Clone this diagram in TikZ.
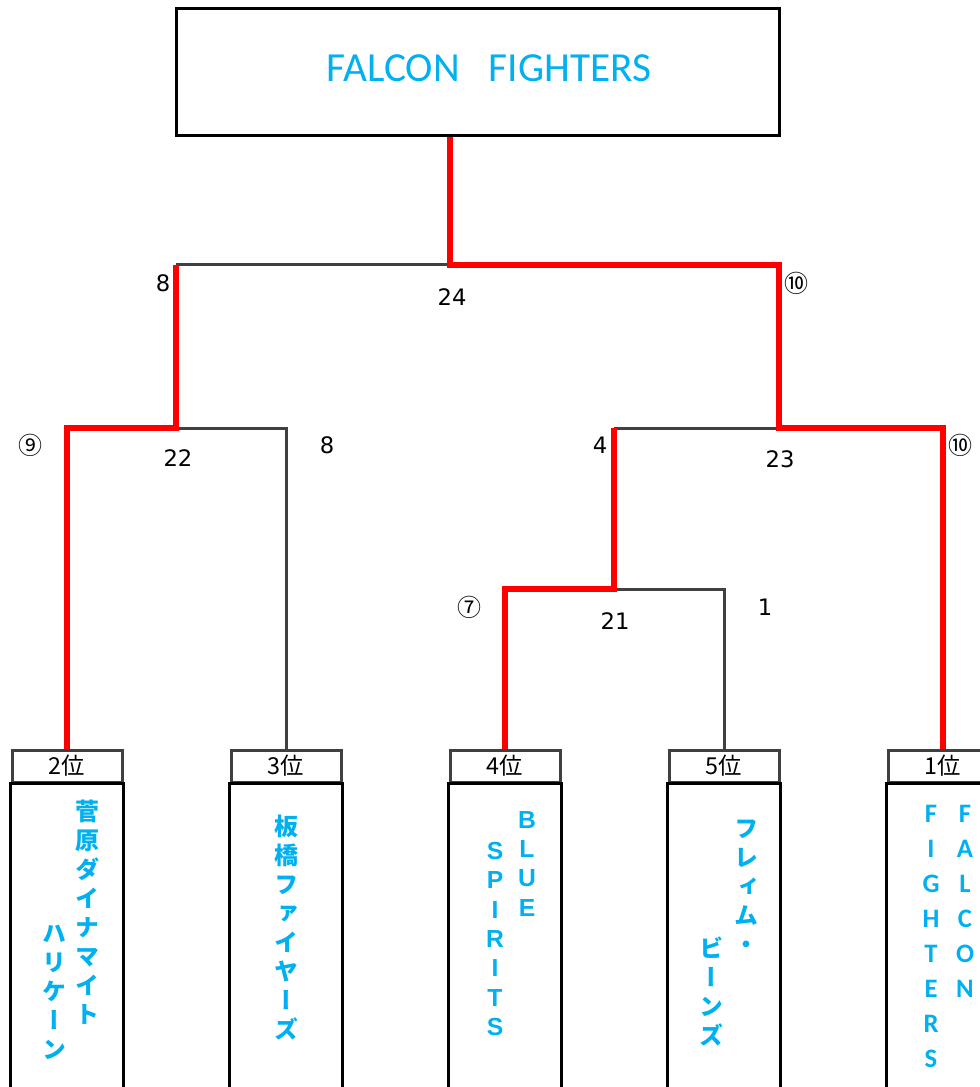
\documentclass[tikz,border=0pt]{standalone}
\usepackage{fontspec}
\setmainfont{DejaVu Sans}
\newfontfamily\cjk{Noto Sans CJK JP}
\newfontfamily\cjkv{Noto Sans CJK JP}[RawFeature=+vert]
\newfontfamily\arialf{Liberation Sans}
\newfontfamily\calif{Carlito}
\definecolor{skyblue}{HTML}{00B0F0}
\definecolor{linegray}{HTML}{404040}
\begin{document}
\begin{tikzpicture}[x=0.75pt,y=-0.75pt,
  win/.style={red, line width=4.5pt},
  lose/.style={linegray, line width=2.25pt},
  rank/.style={draw=linegray, line width=2.25pt, minimum width=82.5pt, minimum height=24pt, inner sep=0pt, font=\cjk\fontsize{17.5}{19}\selectfont},
  body/.style={black, line width=2.25pt},
  score/.style={inner sep=0pt, font=\fontsize{17}{20}\selectfont},
  circ/.style={inner sep=0pt, font=\cjk\fontsize{18}{20}\selectfont},
  jname/.style={anchor=north, inner sep=0pt, align=center, text=skyblue, font=\cjkv\bfseries\fontsize{18}{21.75}\selectfont},
  ename/.style={anchor=north, inner sep=0pt, align=center, text=skyblue, font=\arialf\bfseries\fontsize{18.5}{22}\selectfont},
  fname/.style={anchor=north, inner sep=0pt, align=center, text=skyblue, font=\calif\bfseries\fontsize{20}{26.25}\selectfont}]
\useasboundingbox (0,0) rectangle (980,1087);
\clip (0,0) rectangle (980,1087);
% champion
\node[draw, line width=2.25pt, minimum width=452.25pt, minimum height=95.25pt] (top) at (477.5,72.5) {};
\node[font=\calif\fontsize{31}{36}\selectfont, text=skyblue] (title) at (489,68) {FALCON\hspace{0.7em}FIGHTERS};
% teams
\node[rank] (r2) at (67,766) {2位};
\node[rank] (r3) at (286,766) {3位};
\node[rank] (r4) at (505,766) {4位};
\node[rank] (r5) at (724,766) {5位};
\node[rank] (r1) at (943,766) {1位};
\coordinate (floor) at (0,1100);
\draw[body] (r2.south west) rectangle (r2.south east |- floor);
\draw[body] (r3.south west) rectangle (r3.south east |- floor);
\draw[body] (r4.south west) rectangle (r4.south east |- floor);
\draw[body] (r5.south west) rectangle (r5.south east |- floor);
\draw[body] (r1.south west) rectangle (r1.south east |- floor);
\node[jname] (n2a) at (87,800) {菅\\原\\ダ\\イ\\ナ\\マ\\イ\\ト};
\node[jname] (n2b) at (54,925) {ハ\\リ\\ケ\\ー\\ン};
\node[jname] (n3) at (286,815) {板\\橋\\フ\\ァ\\イ\\ヤ\\ー\\ズ};
\node[ename] (n4a) at (527,811) {B\\L\\U\\E};
\node[ename] (n4b) at (495,842) {S\\P\\I\\R\\I\\T\\S};
\node[jname] (n5a) at (746,820) {フ\\レ\\ィ\\ム\\・};
\node[jname] (n5b) at (711,937) {ビ\\ー\\ン\\ズ};
\node[fname] (n1a) at (965,805) {F\\A\\L\\C\\O\\N};
\node[fname] (n1b) at (931,805) {F\\I\\G\\H\\T\\E\\R\\S};
% joints
\coordinate (f) at (450,265);
\coordinate (sl) at (176,265);
\coordinate (sr) at (779,265);
\coordinate (sl2) at (176,428);
\coordinate (sr2) at (779,428);
\coordinate (q) at (614,428);
\coordinate (q2) at (614,589);
\draw[lose] (sl) -- (f);
\draw[lose] (sl2) -| (r3.north);
\draw[lose] (sr2) -- (q);
\draw[lose] (q2) -| (r5.north);
\draw[win] (top.south -| f) -- (f) -- (sr) -- (sr2) -| (r1.north);
\draw[win] (sl) -- (sl2) -| (r2.north);
\draw[win] (q) -- (q2) -| (r4.north);
% scores
\node[score] (s8a) at (163,283) {8};
\node[score] (s24) at (452,297) {24};
\node[circ] (s10a) at (796,283) {⑩};
\node[circ] (s9) at (30,445) {⑨};
\node[score] (s22) at (178,458) {22};
\node[score] (s8b) at (327,445) {8};
\node[score] (s4) at (600,445) {4};
\node[score] (s23) at (780,459) {23};
\node[circ] (s10b) at (960,445) {⑩};
\node[circ] (s7) at (469,607) {⑦};
\node[score] (s21) at (615,621) {21};
\node[score] (s1) at (765,607) {1};
\end{tikzpicture}
\end{document}
